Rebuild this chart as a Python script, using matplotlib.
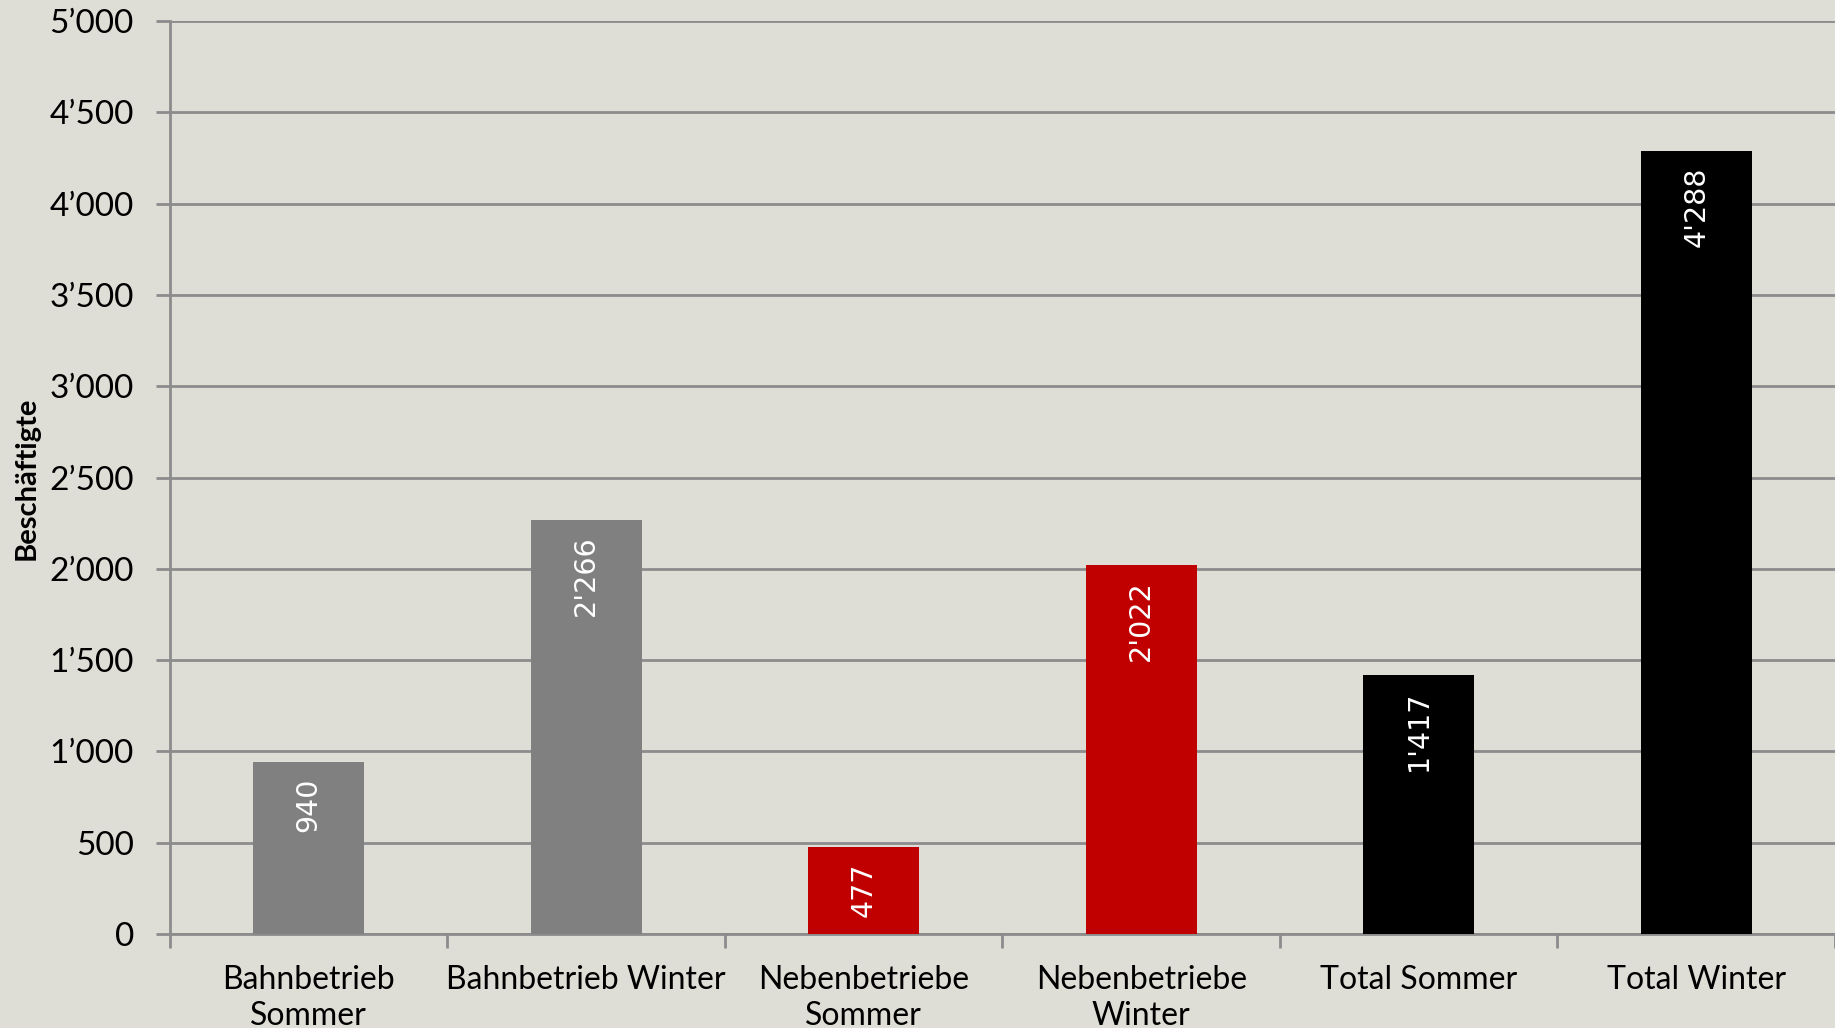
import matplotlib.pyplot as plt
import numpy as np
from matplotlib.ticker import FuncFormatter

categories = ['Bahnbetrieb\nSommer', 'Bahnbetrieb Winter', 'Nebenbetriebe\nSommer',
              'Nebenbetriebe\nWinter', 'Total Sommer', 'Total Winter']
values = [940, 2266, 477, 2022, 1417, 4288]
colors = ['#808080', '#808080', '#C00000', '#C00000', '#000000', '#000000']

bg = '#DFDED6'
line_col = '#8C8C8C'

fig = plt.figure(figsize=(18.35, 10.28), dpi=100, facecolor=bg)
ax = fig.add_axes([0.0926, 0.0914, 0.9074, 0.8882], facecolor=bg)

x = np.arange(len(categories))
bars = ax.bar(x, values, width=0.4, color=colors, zorder=3)

# Werte in den Balken
for b, v in zip(bars, values):
    lbl = f"{v:,}".replace(',', "'")
    ax.annotate(lbl, (b.get_x() + b.get_width() / 2, v), xytext=(0, -11),
                textcoords='offset points', rotation=90, ha='center', va='top',
                color='white', fontsize=20.5, family='DejaVu Sans', zorder=4)

ax.set_xlim(-0.5, 5.5)
ax.set_ylim(0, 5000)
ax.set_yticks(np.arange(0, 5001, 500))
ax.yaxis.set_major_formatter(FuncFormatter(lambda v, p: f"{int(v):,}".replace(',', '\u2019')))
ax.grid(axis='y', color=line_col, linewidth=2, zorder=1)

ax.set_xticks(x)
ax.set_xticklabels(categories, fontsize=23, family='Lato', linespacing=1.25)
ax.set_xticks(np.arange(-0.5, 6, 1), minor=True)
ax.tick_params(axis='x', which='major', length=0, pad=22)
ax.tick_params(axis='x', which='minor', length=10, width=2, color=line_col)
ax.tick_params(axis='y', length=10, width=2, color=line_col, labelsize=24, pad=16)
for t in ax.get_yticklabels():
    t.set_family('Lato')

for s in ['top', 'right']:
    ax.spines[s].set_visible(False)
for s in ['left', 'bottom']:
    ax.spines[s].set_color(line_col)
    ax.spines[s].set_linewidth(2)

fig.text(0.0145, 0.535, 'Beschäftigte', rotation=90, ha='center', va='center',
         fontsize=21, fontweight='bold', family='Lato')

plt.savefig('out.png', dpi=100, facecolor=bg)
